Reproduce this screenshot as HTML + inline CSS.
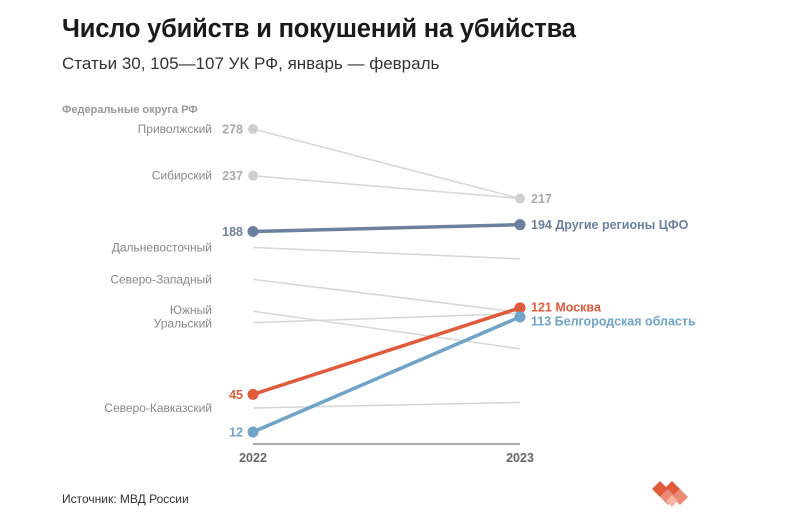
<!DOCTYPE html>
<html><head><meta charset="utf-8"><style>
body{margin:0;background:#fff;font-family:"Liberation Sans","DejaVu Sans",sans-serif;}
#wrap{position:relative;width:807px;height:522px;overflow:hidden;}
h1{position:absolute;left:62px;top:15px;margin:0;font-size:25.5px;font-weight:bold;color:#1a1a1a;letter-spacing:-0.2px;}
.sub{position:absolute;left:62px;top:54px;font-size:17px;color:#333;}
.src{position:absolute;left:62px;top:492px;font-size:12px;color:#333;}
</style></head><body>
<div id="wrap">
<h1>Число убийств и покушений на убийства</h1>
<div class="sub">Статьи 30, 105—107 УК РФ, январь — февраль</div>
<svg id="chart" width="807" height="522" style="position:absolute;left:0;top:0"></svg>
<div class="src">Источник: МВД России</div>
<svg width="807" height="522" style="position:absolute;left:0;top:0;pointer-events:none">
<polygon points="652,489 660,481 668,489 660,497" fill="#e05a3c"/>
<polygon points="664,489 672,481 680,489 672,497" fill="#e05a3c"/>
<polygon points="672,497 680,489 688,497 680,505" fill="#e98a74"/>
<polygon points="660,497 668,489 676,497 668,505" fill="#e98a74"/>
<polygon points="666,501 672,495 678,501 672,507" fill="#f3b5a6"/>
</svg>
</div>
<script>
const years = ["2022","2023"];
const grayNames = ["Приволжский","Сибирский","Дальневосточный","Северо-Западный","Южный","Уральский","Северо-Кавказский"];
const gray2022 = [278,237,174,146,118,108,33];
const gray2023 = [217,217,164,117,85,116,38];
const hlNames = ["Другие регионы ЦФО","Москва","Белгородская область"];
const hl2022 = [188,45,12];
const hl2023 = [194,121,113];
const hlColors = ["#6b7f9f","#e05a3c","#6fa3c8"];
const grayLabelShown = [true,true,false,false,false,false,false];

const NS="http://www.w3.org/2000/svg";
const svg=document.getElementById('chart');
const x0=253,x1=520;
function y(v){return 129+(278-v)*1.139;}
function xYear(i){return i===0?x0:x1;}
function mk(t,a,txt){const e=document.createElementNS(NS,t);for(const k in a)e.setAttribute(k,a[k]);if(txt!==undefined)e.textContent=txt;svg.appendChild(e);return e;}

let e=mk('text',{x:62,y:113,'font-size':11,'font-weight':'bold',fill:'#999'},'Федеральные округа РФ');


e=mk('line',{x1:x0,x2:x1,y1:444,y2:444,stroke:'#555','stroke-width':1});


years.forEach((yr,i)=>{
  const t=mk('text',{x:xYear(i),y:462,'text-anchor':'middle','font-size':12.5,'font-weight':'bold',fill:'#666'},yr);
  
  
});
grayNames.forEach((n,i)=>{
  const l=mk('line',{x1:x0,y1:y(gray2022[i]),x2:x1,y2:y(gray2023[i]),stroke:'#d6d6d6','stroke-width':1.5});
  
  
  let ly=y(gray2022[i])+4;
  if(n==="Южный") ly-=1; if(n==="Уральский") ly+=1;
  const t=mk('text',{x:212,y:ly,'text-anchor':'end','font-size':12,fill:'#888'},n);
  
  
  if(grayLabelShown[i]){
    const c=mk('circle',{cx:x0,cy:y(gray2022[i]),r:5,fill:'#cfcfcf'});
    
    
    const v=mk('text',{x:x0-10,y:y(gray2022[i])+4.5,'text-anchor':'end','font-size':12.5,'font-weight':'bold',fill:'#aaa'},gray2022[i]);
    
    
  }
});
e=mk('circle',{cx:x1,cy:y(gray2023[0]),r:5,fill:'#cfcfcf'});


e=mk('text',{x:x1+11,y:y(gray2023[0])+4.5,'font-size':12.5,'font-weight':'bold',fill:'#aaa'},gray2023[0]);



const labelShift=[0,-1,4];
hlNames.forEach((n,i)=>{
  const c=hlColors[i];
  const l=mk('line',{x1:x0,y1:y(hl2022[i]),x2:x1,y2:y(hl2023[i]),stroke:c,'stroke-width':3.5});
  
  
  [0,1].forEach(j=>{
    const v=j===0?hl2022[i]:hl2023[i];
    const p=mk('circle',{cx:xYear(j),cy:y(v),r:5.5,fill:c});
    
    
  });
  const a=mk('text',{x:x0-10,y:y(hl2022[i])+4.5,'text-anchor':'end','font-size':12.5,'font-weight':'bold',fill:c},hl2022[i]);
  
  
  const b=mk('text',{x:x1+11,y:y(hl2023[i])+4.5+labelShift[i],'font-size':12.5,'font-weight':'bold',fill:c},hl2023[i]+'  '+n);
  b.setAttribute('xml:space','preserve');
  
  
});
</script>
</body></html>
